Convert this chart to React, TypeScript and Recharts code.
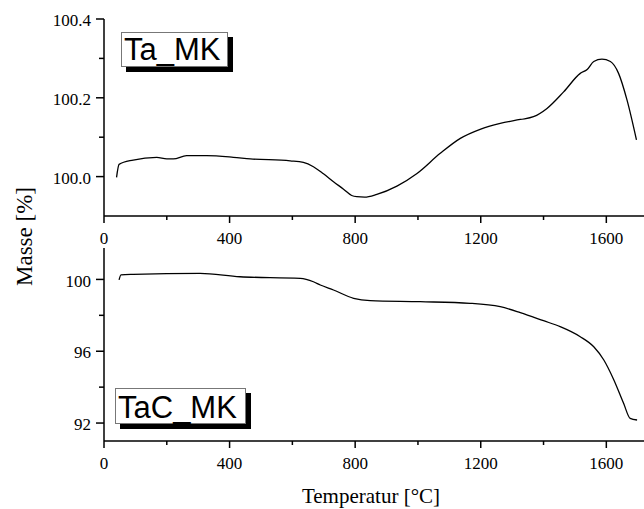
import React from "react";
import { LineChart, Line, XAxis, YAxis } from "recharts";

// Top panel: Ta_MK
const taTemp = [40, 48, 93, 168, 200, 221, 263, 327, 412, 466, 593, 635, 667, 699, 731, 763, 789, 805, 830, 869, 933, 997, 1071, 1135, 1198, 1262, 1326, 1368, 1411, 1464, 1517, 1539, 1560, 1586, 1613, 1639, 1666, 1696];
const taMass = [99.998, 100.031, 100.042, 100.049, 100.045, 100.045, 100.053, 100.053, 100.049, 100.045, 100.04, 100.036, 100.025, 100.007, 99.987, 99.968, 99.952, 99.949, 99.948, 99.955, 99.976, 100.008, 100.059, 100.097, 100.12, 100.135, 100.145, 100.152, 100.173, 100.215, 100.262, 100.272, 100.292, 100.298, 100.292, 100.262, 100.194, 100.093];

// Bottom panel: TaC_MK
const tacTemp = [48, 54, 93, 306, 433, 625, 667, 689, 731, 795, 848, 1007, 1166, 1262, 1326, 1400, 1453, 1517, 1560, 1592, 1624, 1655, 1676, 1698];
const tacMass = [99.97, 100.25, 100.28, 100.34, 100.15, 100.06, 99.87, 99.69, 99.41, 98.95, 98.82, 98.76, 98.67, 98.48, 98.15, 97.7, 97.37, 96.81, 96.25, 95.51, 94.4, 93.1, 92.26, 92.17];

const xTicks = [0, 200, 400, 600, 800, 1000, 1200, 1400, 1600];
const xMajor = [0, 400, 800, 1200, 1600];
const topYTicks = [100.0, 100.1, 100.2, 100.3, 100.4];
const topYMajor = [100.0, 100.2, 100.4];
const botYTicks = [92, 94, 96, 98, 100];
const botYMajor = [92, 96, 100];

const taData = taTemp.map((t, i) => ({ t, m: taMass[i] }));
const tacData = tacTemp.map((t, i) => ({ t, m: tacMass[i] }));

const SERIF = "'Liberation Serif', 'Times New Roman', serif";
const SANS = "'Liberation Sans', Arial, sans-serif";

const isIn = (arr: number[], v: number) => arr.some((a) => Math.abs(a - v) < 1e-6);

const makeXTick = (major: number[]) => (props: any) => {
  const { x, y, payload } = props;
  const v = payload.value;
  const isMaj = isIn(major, v);
  return (
    <g>
      <line x1={x} x2={x} y1={y} y2={y + (isMaj ? 7 : 4)} stroke="#000" strokeWidth={1.5} />
      {isMaj && (
        <text x={x} y={y + 16} dy="0.71em" textAnchor="middle" fontFamily={SERIF} fontSize={17} fill="#000">
          {String(v)}
        </text>
      )}
    </g>
  );
};

const makeYTick = (major: number[], digits: number) => (props: any) => {
  const { x, y, payload } = props;
  const v = payload.value;
  const isMaj = isIn(major, v);
  return (
    <g>
      <line x1={x} x2={x - (isMaj ? 8 : 5)} y1={y} y2={y} stroke="#000" strokeWidth={1.5} />
      {isMaj && (
        <text x={x - 13} y={y} dy="0.42em" textAnchor="end" fontFamily={SERIF} fontSize={17} fill="#000">
          {v.toFixed(digits)}
        </text>
      )}
    </g>
  );
};

const XDOMAIN: [number, number] = [0, 1720];

export default function App() {
  return (
    <div style={{ position: "absolute", left: 0, top: 0, width: 644, height: 509, background: "#fff" }}>
      <div style={{ position: "absolute", left: 0, top: 0 }}>
        <LineChart width={644} height={260} data={taData} margin={{ top: 19, right: 0, left: 0, bottom: 0 }}>
          <XAxis
            dataKey="t"
            type="number"
            domain={XDOMAIN}
            ticks={xTicks}
            interval={0}
            height={44}
            tickSize={0}
            tickMargin={0}
            tickLine={false}
            axisLine={{ stroke: "#000", strokeWidth: 1.5 }}
            tick={makeXTick(xMajor)}
            allowDataOverflow
          />
          <XAxis xAxisId="top" orientation="top" type="number" domain={XDOMAIN} dataKey="t" height={0} tick={false} tickLine={false} axisLine={{ stroke: "#000", strokeWidth: 1.5 }} />
          <YAxis
            type="number"
            domain={[99.9, 100.4]}
            ticks={topYTicks}
            interval={0}
            width={104}
            tickSize={0}
            tickMargin={0}
            tickLine={false}
            axisLine={{ stroke: "#000", strokeWidth: 1.5 }}
            tick={makeYTick(topYMajor, 1)}
            allowDataOverflow
          />
          <Line type="monotone" dataKey="m" stroke="#000" strokeWidth={1.3} dot={false} isAnimationActive={false} />
        </LineChart>
      </div>
      <div style={{ position: "absolute", left: 0, top: 230 }}>
        <LineChart width={644} height={279} data={tacData} margin={{ top: 18, right: 0, left: 0, bottom: 0 }}>
          <XAxis
            dataKey="t"
            type="number"
            domain={XDOMAIN}
            ticks={xTicks}
            interval={0}
            height={68}
            tickSize={0}
            tickMargin={0}
            tickLine={false}
            axisLine={{ stroke: "#000", strokeWidth: 1.5 }}
            tick={makeXTick(xMajor)}
            allowDataOverflow
          />
          <XAxis xAxisId="top" orientation="top" type="number" domain={XDOMAIN} dataKey="t" height={0} tick={false} tickLine={false} axisLine={{ stroke: "#000", strokeWidth: 1.5 }} />
          <YAxis
            type="number"
            domain={[91, 101.75]}
            ticks={botYTicks}
            interval={0}
            width={104}
            tickSize={0}
            tickMargin={0}
            tickLine={false}
            axisLine={{ stroke: "#000", strokeWidth: 1.5 }}
            tick={makeYTick(botYMajor, 0)}
            allowDataOverflow
          />
          <Line type="monotone" dataKey="m" stroke="#000" strokeWidth={1.3} dot={false} isAnimationActive={false} />
        </LineChart>
      </div>
      <svg width={644} height={509} style={{ position: "absolute", left: 0, top: 0, pointerEvents: "none" }}>
        <rect x={126} y={37} width={107} height={35} fill="#000" />
        <rect x={121.5} y={32.5} width={106} height={34} fill="#fff" stroke="#777" strokeWidth={1} />
        <text x={124} y={60} fontFamily={SANS} fontSize={31} fill="#000">Ta_MK</text>
        <rect x={120} y={393} width={131} height={36} fill="#000" />
        <rect x={115.5} y={388.5} width={130} height={35} fill="#fff" stroke="#777" strokeWidth={1} />
        <text x={118} y={418} fontFamily={SANS} fontSize={31} fill="#000">TaC_MK</text>
        <text x={32} y={236.5} transform="rotate(-90 32 236.5)" textAnchor="middle" fontFamily={SERIF} fontSize={23} fill="#000">Masse [%]</text>
        <text x={371} y={502.5} textAnchor="middle" fontFamily={SERIF} fontSize={21} fill="#000">Temperatur [°C]</text>
      </svg>
    </div>
  );
}
